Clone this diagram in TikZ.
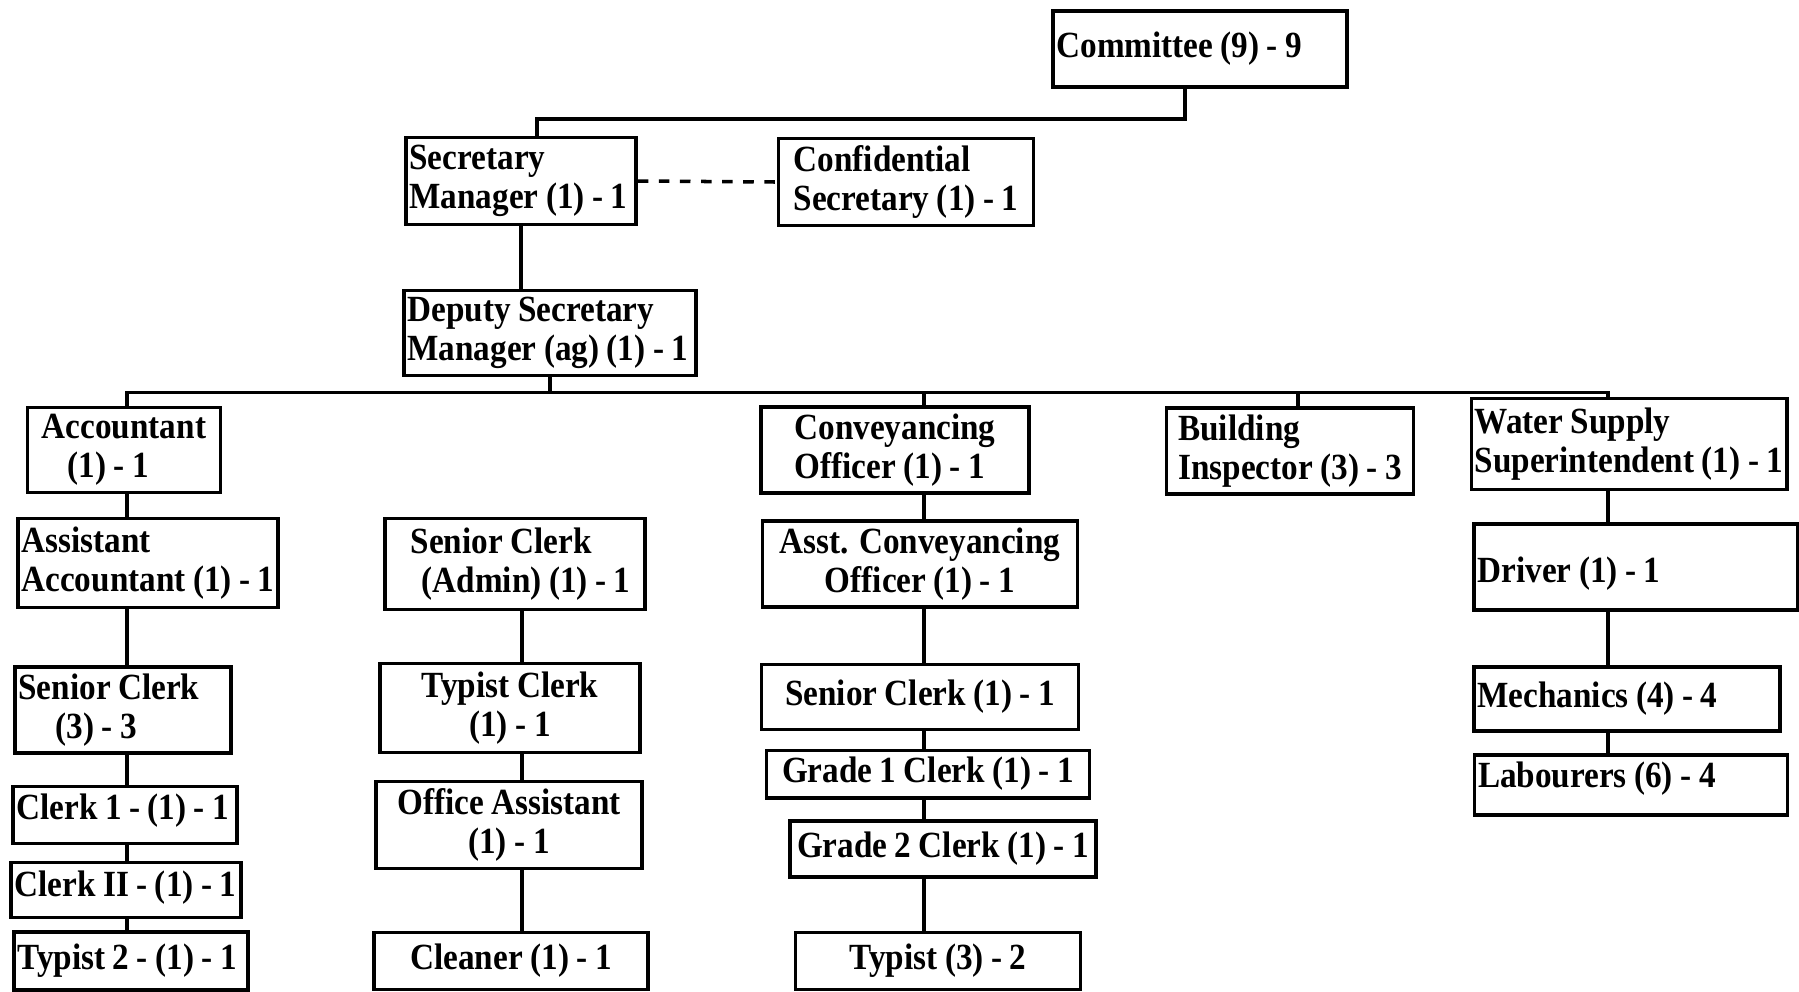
\documentclass[tikz,border=0pt]{standalone}
\usepackage{fontspec}
\newfontfamily\orgfont{Liberation Serif}[FakeStretch=0.9, WordSpace=0.9]
\usetikzlibrary{calc}

\begin{document}
\begin{tikzpicture}[
    x=0.1mm, y=-0.1mm,
    block/.style={draw, line width=1pt, inner xsep=1pt, inner ysep=2pt,
                  align=flush left, font=\orgfont\bfseries\fontsize{10.5}{11}\selectfont},
    link/.style={line width=1pt}
  ]
  \useasboundingbox (0,0) rectangle (1799,991);

  % Top of the chart
  \node[block, minimum width=29.4mm, minimum height=7.6mm, text width=28.7mm] (comm) at (1200,49) {Committee (9) - 9};
  \node[block, minimum width=23mm, minimum height=8.7mm, text width=22.3mm] (secm) at (521,181) {Secretary\\Manager (1) - 1};
  \node[block, minimum width=25.5mm, minimum height=8.5mm] (conf) at (906,182) {Confidential\\Secretary (1) - 1};
  \node[block, minimum width=29.2mm, minimum height=8mm, text width=28.5mm] (dep) at (550,333) {Deputy Secretary\\Manager (ag) (1) - 1};

  % Heads of section
  \node[block, minimum width=19.3mm, minimum height=8mm] (acc) at (124,450) {Accountant\\\hspace*{0.7em}(1) - 1};
  \node[block, minimum width=26.8mm, minimum height=8mm] (conv) at (895,450) {Conveyancing\\Officer (1) - 1};
  \node[block, minimum width=24.7mm, minimum height=8.5mm] (bldg) at (1290,451) {Building\\Inspector (3) - 3};
  \node[block, minimum width=31.4mm, minimum height=9.1mm] (water) at (1629,444) {Water Supply\\Superintendent (1) - 1};

  % Accounts column
  \node[block, minimum width=26mm, minimum height=8.9mm, text width=25.3mm] (aacc) at (148,563) {Assistant\\Accountant (1) - 1};
  \node[block, minimum width=21.6mm, minimum height=8.6mm, text width=20.9mm] (sclk) at (123,710) {Senior Clerk\\\hspace*{1em}(3) - 3};
  \node[block, minimum width=22.4mm, minimum height=5.7mm, text width=21.7mm, text depth=1.6mm] (clk1) at (125,815) {Clerk 1 - (1) - 1};
  \node[block, minimum width=23mm, minimum height=5.5mm, text width=22.3mm, text depth=1.2mm] (clk2) at (126,890) {Clerk II - (1) - 1};
  \node[block, minimum width=23.4mm, minimum height=5.8mm, text width=22.7mm] (typ2) at (131,961) {Typist 2 - (1) - 1};

  % Admin column
  \node[block, minimum width=26mm, minimum height=9.1mm] (adm) at (515,564) {\hspace*{0.3em}Senior Clerk\\\hspace*{0.6em}(Admin) (1) - 1};
  \node[block, minimum width=26mm, minimum height=8.9mm, align=center] (tclk) at (510,708) {Typist Clerk\\(1) - 1};
  \node[block, minimum width=26.6mm, minimum height=8mm, align=center] (oast) at (509,825) {Office Assistant\\(1) - 1};
  \node[block, minimum width=27.4mm, minimum height=5.7mm, align=center] (clean) at (511,961) {Cleaner (1) - 1};

  % Conveyancing column
  \node[block, minimum width=31.5mm, minimum height=8.5mm, align=center] (aconv) at (920,564) {Asst. Conveyancing\\Officer (1) - 1};
  \node[block, minimum width=31.7mm, minimum height=6.5mm, align=center] (sclk3) at (920,697) {Senior Clerk (1) - 1};
  \node[block, minimum width=32.3mm, minimum height=4.6mm, align=center] (gr1) at (928,774) {Grade 1 Clerk (1) - 1};
  \node[block, minimum width=30.6mm, minimum height=5.6mm, align=center] (gr2) at (943,849) {Grade 2 Clerk (1) - 1};
  \node[block, minimum width=28.5mm, minimum height=5.7mm, align=center] (typ3) at (938,961) {Typist (3) - 2};

  % Water supply column
  \node[block, minimum width=32.4mm, minimum height=8.6mm, text width=31.7mm] (drv) at (1636,567) {\mbox{}\\Driver (1) - 1};
  \node[block, minimum width=30.6mm, minimum height=6.4mm, text width=29.9mm] (mech) at (1627,699) {Mechanics (4) - 4};
  \node[block, minimum width=31.3mm, minimum height=6mm, text width=30.6mm, text depth=2mm] (lab) at (1631,785) {Labourers (6) - 4};

  % Column lines
  \coordinate (c1) at (127,0);
  \coordinate (c2) at (522,0);
  \coordinate (c3) at (924,0);
  \coordinate (c4) at (1298,0);
  \coordinate (c5) at (1608,0);

  % Committee -> Secretary Manager
  \draw[link] ($(comm.south)+(-15,0)$) -- ++(0,30) -| ($(secm.north)+(16,0)$);
  \draw[link, dashed] (secm.east) -- (conf.west);
  \draw[link] (secm.south) -- (secm.south |- dep.north);

  % Deputy -> heads of section
  \draw[link] (dep.south) -- ++(0,15) coordinate (bus);
  \foreach \n/\c in {acc/c1,conv/c3,bldg/c4,water/c5}
    \draw[link] (\n.north -| \c) |- (bus);

  % Chains down each column
  \foreach \a/\b in {acc/aacc,aacc/sclk,sclk/clk1,clk1/clk2,clk2/typ2}
    \draw[link] (\a.south -| c1) -- (\b.north -| c1);
  \foreach \a/\b in {adm/tclk,tclk/oast,oast/clean}
    \draw[link] (\a.south -| c2) -- (\b.north -| c2);
  \foreach \a/\b in {conv/aconv,aconv/sclk3,sclk3/gr1,gr1/gr2,gr2/typ3}
    \draw[link] (\a.south -| c3) -- (\b.north -| c3);
  \foreach \a/\b in {water/drv,drv/mech,mech/lab}
    \draw[link] (\a.south -| c5) -- (\b.north -| c5);
\end{tikzpicture}
\end{document}
